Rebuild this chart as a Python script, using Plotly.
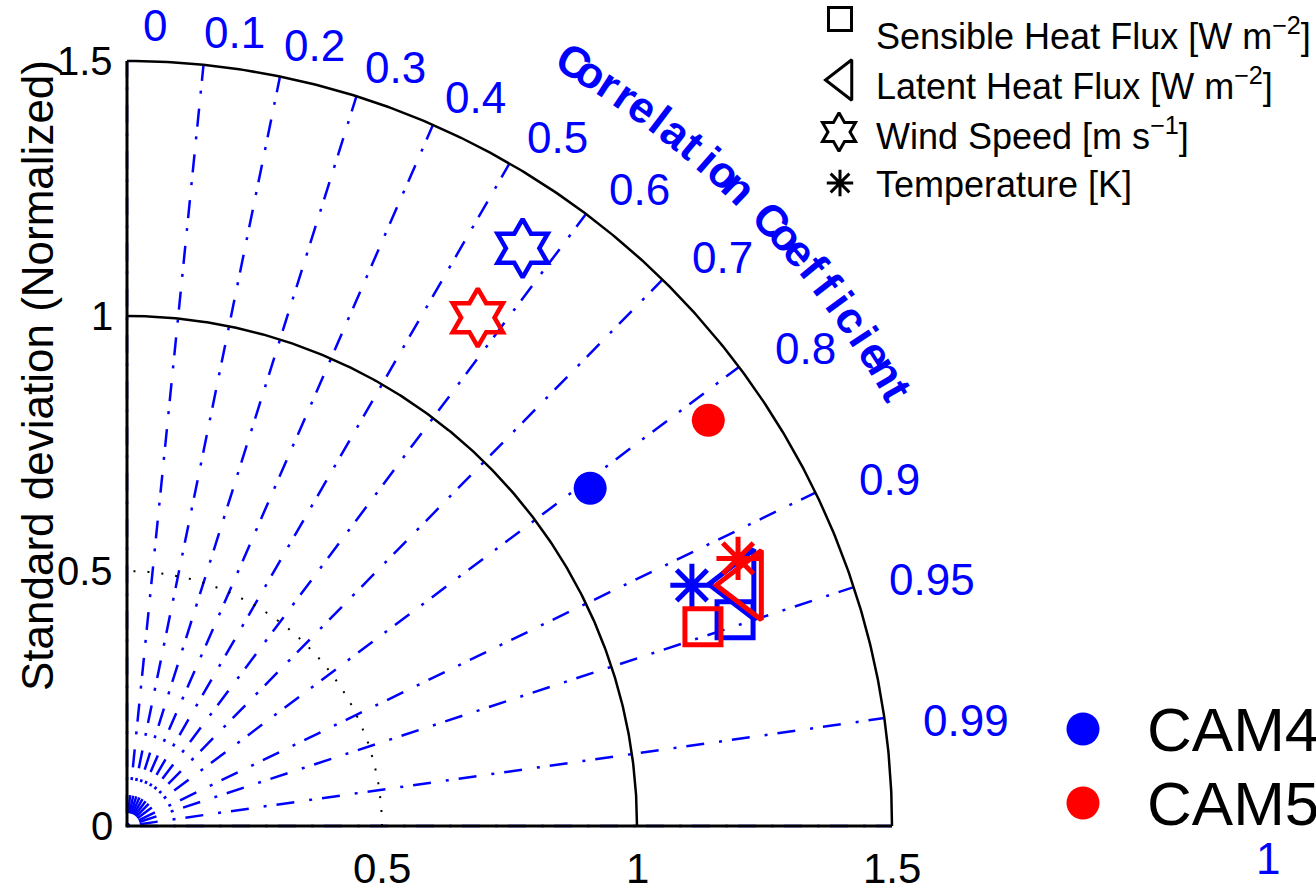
import numpy as np
import plotly.graph_objects as go

# ---------------- data ----------------
variables = ["Sensible Heat Flux", "Latent Heat Flux", "Wind Speed", "Temperature"]
var_units = ["[W m<sup>\u22122</sup>]", "[W m<sup>\u22122</sup>]", "[m s<sup>\u22121</sup>]", "[K]"]
var_symbols = ["square-open", "triangle-left-open", "hexagram-open", "asterisk-open"]

models = ["CAM4", "CAM5"]
model_colors = ["#0000FF", "#FF0000"]

# normalized standard deviation and correlation for each variable
cam4_std = [1.259, 1.290, 1.373, 1.204]
cam4_corr = [0.947, 0.930, 0.565, 0.920]
cam5_std = [1.195, 1.303, 1.211, 1.308]
cam5_corr = [0.945, 0.932, 0.568, 0.916]

# filled circles (overall)
overall_std = [1.124, 1.390]
overall_corr = [0.808, 0.820]

corr_ticks = [0, 0.1, 0.2, 0.3, 0.4, 0.5, 0.6, 0.7, 0.8, 0.9, 0.95, 0.99, 1.0]
corr_labels = ["0", "0.1", "0.2", "0.3", "0.4", "0.5", "0.6", "0.7", "0.8", "0.9", "0.95", "0.99", "1"]
std_ticks_y = [0, 0.5, 1, 1.5]
std_labels_y = ["0", "0.5", "1", "1.5"]
std_ticks_x = [0.5, 1, 1.5]
std_labels_x = ["0.5", "1", "1.5"]
std_max = 1.5
solid_arcs = [1.0, 1.5]
dotted_arcs = [0.5]

# ---------------- layout geometry ----------------
W, H = 1316, 890
S = 510.0          # pixels per unit
OX, OY = 127, 826  # origin in pixels
XR = [-OX / S, (W - OX) / S]
YR = [(OY - H) / S, OY / S]

FONT = "Liberation Sans, Arial, Helvetica, sans-serif"
BLUE = "#0000FF"


def polar_xy(std, corr):
    std = np.asarray(std, float)
    corr = np.asarray(corr, float)
    return std * corr, std * np.sqrt(np.clip(1 - corr ** 2, 0, None))


fig = go.Figure()

# correlation rays
for c in corr_ticks:
    th = np.arccos(c)
    fig.add_trace(go.Scatter(
        x=[0, std_max * np.cos(th)], y=[0, std_max * np.sin(th)], mode="lines",
        line=dict(color=BLUE, width=2.5, dash="3px,10px,18px,15px"),
        hoverinfo="skip", showlegend=False))

# arcs
t = np.linspace(0, np.pi / 2, 300)
for r in dotted_arcs:
    fig.add_trace(go.Scatter(x=r * np.cos(t), y=r * np.sin(t), mode="lines",
                             line=dict(color="black", width=2, dash="2px,12px"),
                             hoverinfo="skip", showlegend=False))
for r in solid_arcs:
    fig.add_trace(go.Scatter(x=r * np.cos(t), y=r * np.sin(t), mode="lines",
                             line=dict(color="black", width=2.5),
                             hoverinfo="skip", showlegend=False))

# axes lines
fig.add_trace(go.Scatter(x=[0, 0, std_max], y=[std_max, 0, 0], mode="lines",
                         line=dict(color="black", width=3), hoverinfo="skip", showlegend=False))

# data markers
sym_sizes = {"square-open": 36, "triangle-left-open": 60, "hexagram-open": 44, "asterisk-open": 36}
sym_widths = {"square-open": 5, "triangle-left-open": 5, "hexagram-open": 4.5, "asterisk-open": 5}

for mi in range(len(models)):
    col = model_colors[mi]
    ox, oy = polar_xy([overall_std[mi]], [overall_corr[mi]])
    fig.add_trace(go.Scatter(x=ox, y=oy, mode="markers",
                             marker=dict(symbol="circle", size=33, color=col, line=dict(width=0)),
                             showlegend=False, name=models[mi]))
for mi, (stds, corrs) in enumerate([(cam4_std, cam4_corr), (cam5_std, cam5_corr)]):
    col = model_colors[mi]
    for vi, sym in enumerate(var_symbols):
        x, y = polar_xy([stds[vi]], [corrs[vi]])
        fig.add_trace(go.Scatter(x=x, y=y, mode="markers",
                                 marker=dict(symbol=sym, size=sym_sizes[sym], color=col,
                                             line=dict(color=col, width=sym_widths[sym])),
                                 showlegend=False, name=f"{models[mi]} {variables[vi]}"))

annotations = []

# std tick labels
for v, lab in zip(std_ticks_y, std_labels_y):
    annotations.append(dict(x=-12 / S, y=v, xref="x", yref="y", text=lab, showarrow=False,
                            xanchor="right", yanchor="middle",
                            font=dict(family=FONT, size=40, color="black")))
for v, lab in zip(std_ticks_x, std_labels_x):
    annotations.append(dict(x=v, y=-42 / S, xref="x", yref="y", text=lab, showarrow=False,
                            xanchor="center", yanchor="middle",
                            font=dict(family=FONT, size=42, color="black")))

# correlation tick labels
for c, lab in zip(corr_ticks, corr_labels):
    th = np.degrees(np.arccos(c)) - 2.0 + 1.1 * c ** 6
    r = 1.57 + 0.09 * c ** 2
    lx, ly = r * np.cos(np.radians(th)), r * np.sin(np.radians(th))
    if lab == "1":
        lx, ly = (1268 - OX) / S, (OY - 858) / S
    annotations.append(dict(x=lx, y=ly, xref="x", yref="y", text=lab, showarrow=False,
                            xanchor="center", yanchor="middle",
                            font=dict(family=FONT, size=44, color=BLUE)))

# curved title "Correlation Coefficient"
R_title = 885 / S
for word, a0, a1 in [("Correlation", 59.7, 46.2), ("Coefficient", 43.2, 29.5)]:
    angs = np.linspace(a0, a1, len(word))
    for ch, a in zip(word, angs):
        annotations.append(dict(x=R_title * np.cos(np.radians(a)), y=R_title * np.sin(np.radians(a)),
                                xref="x", yref="y", text=ch, showarrow=False,
                                xanchor="center", yanchor="middle", textangle=90 - a,
                                font=dict(family=FONT, size=44, color=BLUE, weight="bold")))

# y axis title
annotations.append(dict(x=37, y=376, xref="x2", yref="y2", text="Standard deviation (Normalized)",
                        showarrow=False, textangle=-90, xanchor="center", yanchor="middle",
                        font=dict(family=FONT, size=44, color="black")))

# variable legend (top right)
leg_mk_x = [840, 843, 839, 840]
leg_mk_y = [19, 80, 132, 183]
leg_mk_size = [23, 35, 29, 22]
leg_txt_y = [34, 84, 134, 184]
for vi in range(len(variables)):
    fig.add_trace(go.Scatter(x=[leg_mk_x[vi]], y=[leg_mk_y[vi]], xaxis="x2", yaxis="y2", mode="markers",
                             marker=dict(symbol=var_symbols[vi], size=leg_mk_size[vi], color="black",
                                         line=dict(color="black", width=3)),
                             showlegend=False, hoverinfo="skip", cliponaxis=False))
    annotations.append(dict(x=874, y=leg_txt_y[vi], xref="x2", yref="y2",
                            text=f"{variables[vi]} {var_units[vi]}", showarrow=False,
                            xanchor="left", yanchor="middle",
                            font=dict(family=FONT, size=36, color="black")))

# model legend (bottom right)
mod_y = [729, 803]
for mi in range(len(models)):
    fig.add_trace(go.Scatter(x=[1083], y=[mod_y[mi]], xaxis="x2", yaxis="y2", mode="markers",
                             marker=dict(symbol="circle", size=33, color=model_colors[mi], line=dict(width=0)),
                             showlegend=False, hoverinfo="skip", cliponaxis=False))
    annotations.append(dict(x=1145, y=mod_y[mi], xref="x2", yref="y2", text=models[mi], showarrow=False,
                            xanchor="left", yanchor="middle",
                            font=dict(family=FONT, size=62, color="black")))

fig.update_layout(
    width=W, height=H, margin=dict(l=0, r=0, t=0, b=0),
    paper_bgcolor="white", plot_bgcolor="white", showlegend=False,
    xaxis=dict(range=XR, visible=False, fixedrange=True),
    yaxis=dict(range=YR, visible=False, fixedrange=True),
    xaxis2=dict(range=[0, W], visible=False, overlaying="x", fixedrange=True),
    yaxis2=dict(range=[H, 0], visible=False, overlaying="y", fixedrange=True),
    annotations=annotations,
)

fig.write_html("out.html", config={"displayModeBar": False},
               post_script="document.body.style.margin='0';")
